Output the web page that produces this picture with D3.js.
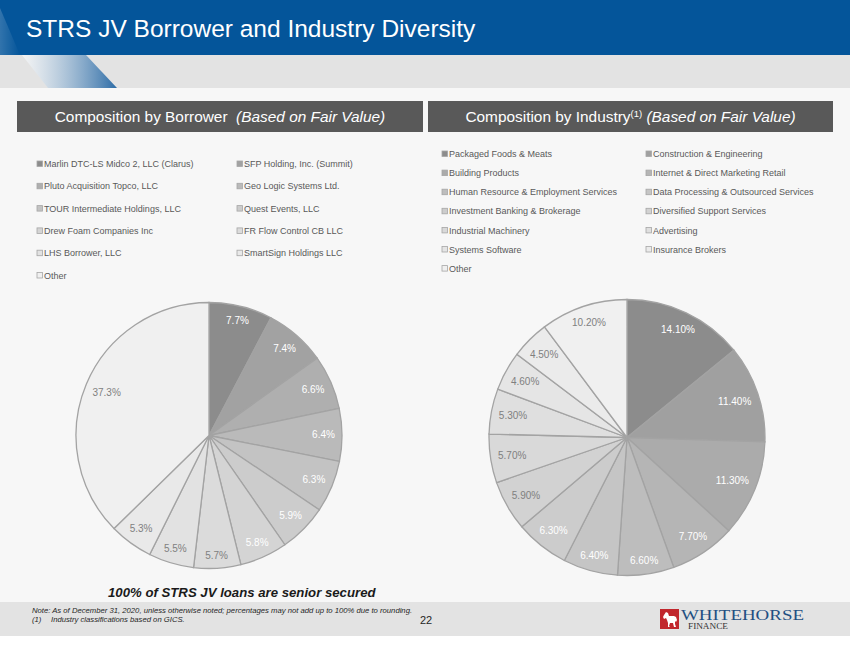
<!DOCTYPE html>
<html>
<head>
<meta charset="utf-8">
<script src="https://cdn.jsdelivr.net/npm/d3@7"></script>
<style>
  body { margin: 0; background: #ffffff; }
  svg { display: block; font-family: "Liberation Sans", Arial, sans-serif; }
</style>
</head>
<body>
<div id="chart"></div>
<script>
// Composition by borrower
const borrowerNames = [
    'Marlin DTC-LS Midco 2, LLC (Clarus)', 'SFP Holding, Inc. (Summit)',
    'Pluto Acquisition Topco, LLC', 'Geo Logic Systems Ltd.',
    'TOUR Intermediate Holdings, LLC', 'Quest Events, LLC',
    'Drew Foam Companies Inc', 'FR Flow Control CB LLC',
    'LHS Borrower, LLC', 'SmartSign Holdings LLC',
    'Other'
];
const borrowerValues = [7.7, 7.4, 6.6, 6.4, 6.3, 5.9, 5.8, 5.7, 5.5, 5.3, 37.3];

// Composition by industry
const industryNames = [
    'Packaged Foods & Meats', 'Construction & Engineering',
    'Building Products', 'Internet & Direct Marketing Retail',
    'Human Resource & Employment Services', 'Data Processing & Outsourced Services',
    'Investment Banking & Brokerage', 'Diversified Support Services',
    'Industrial Machinery', 'Advertising',
    'Systems Software', 'Insurance Brokers',
    'Other'
];
const industryValues = [14.1, 11.4, 11.3, 7.7, 6.6, 6.4, 6.3, 5.9, 5.7, 5.3, 4.6, 4.5, 10.2];

const W = 850, H = 649;

const svg = d3.select('#chart').append('svg')
    .attr('width', W)
    .attr('height', H);

const defs = svg.append('defs');
const stripeGrad = defs.append('linearGradient')
    .attr('id', 'stripe').attr('x1', 0).attr('x2', 1).attr('y1', 0).attr('y2', 0);
stripeGrad.append('stop').attr('offset', '0%').attr('stop-color', '#ffffff').attr('stop-opacity', 0.6);
stripeGrad.append('stop').attr('offset', '100%').attr('stop-color', '#2d6ca6');
const hdrGrad = defs.append('linearGradient')
    .attr('id', 'hdr').attr('x1', 0).attr('x2', 1).attr('y1', 0).attr('y2', 0);
hdrGrad.append('stop').attr('offset', '0%').attr('stop-color', '#ffffff').attr('stop-opacity', 0.18);
hdrGrad.append('stop').attr('offset', '100%').attr('stop-color', '#ffffff').attr('stop-opacity', 0);

// page background
svg.append('rect').attr('width', W).attr('height', H).attr('fill', '#f7f7f7');

// header
svg.append('rect').attr('width', W).attr('height', 55).attr('fill', '#04559a');
svg.append('path').attr('d', 'M0,8 L20,55 L0,55 Z').attr('fill', 'url(#hdr)');
svg.append('rect').attr('y', 55).attr('width', W).attr('height', 33).attr('fill', '#e3e3e3');
svg.append('path').attr('d', 'M22,55 L86,55 L117,88 L48,88 Z').attr('fill', 'url(#stripe)');
svg.append('text')
    .attr('x', 26).attr('y', 37)
    .attr('fill', '#ffffff')
    .style('font-size', '24.5px')
    .text('STRS JV Borrower and Industry Diversity');

// section title bars
function sectionBar(x, w, parts) {
    svg.append('rect')
        .attr('x', x).attr('y', 101).attr('width', w).attr('height', 31)
        .attr('fill', '#595959');
    const t = svg.append('text')
        .attr('x', x + w / 2).attr('y', 122)
        .attr('text-anchor', 'middle')
        .attr('fill', '#ffffff')
        .style('font-size', '15.4px');
    parts.forEach(p => {
        const ts = t.append('tspan').text(p.text);
        if (p.italic) ts.style('font-style', 'italic');
        if (p.sup) ts.style('font-size', '9.5px').attr('dy', -5);
        if (p.after) ts.attr('dy', 5);
    });
}
sectionBar(17, 406, [
    { text: 'Composition by Borrower\u00a0\u00a0' },
    { text: '(Based on Fair Value)', italic: true }
]);
sectionBar(428, 405, [
    { text: 'Composition by Industry' },
    { text: '(1)', sup: true },
    { text: ' (Based on Fair Value)', italic: true, after: true }
]);

function drawPie(names, values, opts) {
    const n = values.length;
    // monochrome palette: dark grey for the largest holding, fading to near white
    const shade = d3.scalePow().exponent(0.65)
        .domain([0, n - 1])
        .range([140, 240]);
    const color = i => d3.rgb(shade(i), shade(i), shade(i)).formatHex();

    // legend, two columns, row-major
    const lg = svg.append('g').style('font-size', '9px');
    names.forEach((name, i) => {
        const col = i % 2, row = Math.floor(i / 2);
        const gx = opts.legendX[col], gy = opts.legendY + row * opts.legendStep;
        lg.append('rect')
            .attr('x', gx).attr('y', gy - 3)
            .attr('width', 5.5).attr('height', 5.5)
            .attr('fill', color(i))
            .attr('stroke', '#a6a6a6').attr('stroke-width', 0.8);
        lg.append('text')
            .attr('x', gx + 7).attr('y', gy)
            .attr('dy', '0.35em')
            .attr('fill', '#595959')
            .text(name);
    });

    const pie = d3.pie().sort(null).value(d => d);
    const arcs = pie(values);
    const arc = d3.arc().innerRadius(0).outerRadius(opts.r);

    const g = svg.append('g').attr('transform', `translate(${opts.cx},${opts.cy})`);
    g.selectAll('path')
        .data(arcs)
        .join('path')
        .attr('d', arc)
        .attr('fill', (d, i) => color(i))
        .attr('stroke', '#a3a3a3')
        .attr('stroke-width', 1.3);

    // labels placed "inside end", box touching the rim
    const labels = g.selectAll('text.lbl')
        .data(arcs)
        .join('text')
        .attr('class', 'lbl')
        .attr('text-anchor', 'middle')
        .attr('dy', '0.35em')
        .style('font-size', '10px')
        .attr('fill', (d, i) => i < 7 ? '#ffffff' : '#808080')
        .text(d => d3.format(opts.fmt)(d.value) + '%');

    labels.each(function (d) {
        const w = this.getComputedTextLength() / 2 + 1;
        const h = 5;
        const a = (d.startAngle + d.endAngle) / 2;
        const ux = Math.sin(a), uy = -Math.cos(a);
        const R = opts.r - 6;
        const B = Math.abs(ux) * w + Math.abs(uy) * h;
        const dist = -B + Math.sqrt(B * B - (w * w + h * h - R * R));
        d3.select(this).attr('x', dist * ux).attr('y', dist * uy);
    });
}

drawPie(borrowerNames, borrowerValues, {
    cx: 209, cy: 435.5, r: 133, fmt: '.1f',
    legendX: [37, 237], legendY: 164, legendStep: 22.3
});
drawPie(industryNames, industryValues, {
    cx: 627, cy: 437.5, r: 138, fmt: '.2f',
    legendX: [442, 646], legendY: 154, legendStep: 19.1
});

// callout
svg.append('text')
    .attr('x', 108).attr('y', 597)
    .attr('fill', '#1a1a1a')
    .style('font-size', '13.2px')
    .style('font-weight', 'bold')
    .style('font-style', 'italic')
    .text('100% of STRS JV loans are senior secured');

// footer band
svg.append('rect').attr('y', 602).attr('width', W).attr('height', 34).attr('fill', '#e3e3e3');
svg.append('rect').attr('y', 636).attr('width', W).attr('height', 13).attr('fill', '#ffffff');
const notes = svg.append('g')
    .style('font-size', '7.7px')
    .style('font-style', 'italic')
    .attr('fill', '#262626');
notes.append('text').attr('x', 32).attr('y', 613)
    .text('Note: As of December 31, 2020, unless otherwise noted; percentages may not add up to 100% due to rounding.');
notes.append('text').attr('x', 32).attr('y', 622).text('(1)');
notes.append('text').attr('x', 51).attr('y', 622).text('Industry classifications based on GICS.');
svg.append('text')
    .attr('x', 426).attr('y', 624)
    .attr('text-anchor', 'middle')
    .attr('fill', '#262626')
    .style('font-size', '11px')
    .text('22');

// logo
const logo = svg.append('g').attr('transform', 'translate(660,609)');
logo.append('rect').attr('width', 19).attr('height', 20).attr('fill', '#c1272d');
logo.append('path')
    .attr('d', 'M4,6 L6,3 L8,4 L9,7 L14,7 L16,8 L17,11 L16,13 L15,12 L15,15 L16,18 L14,18 L13,14 L10,14 L9,17 L10,18 L8,18 L8,14 L7,11 L6,9 L4,10 L3,8 Z')
    .attr('fill', '#ffffff');
logo.append('text')
    .attr('x', 21).attr('y', 11)
    .attr('textLength', 123).attr('lengthAdjust', 'spacingAndGlyphs')
    .attr('fill', '#1f4f82')
    .style('font-family', '"Liberation Serif", "DejaVu Serif", serif')
    .style('font-size', '15px')
    .text('WHITEHORSE');
logo.append('text')
    .attr('x', 28).attr('y', 19.5)
    .attr('textLength', 40).attr('lengthAdjust', 'spacingAndGlyphs')
    .attr('fill', '#333333')
    .style('font-family', '"Liberation Serif", "DejaVu Serif", serif')
    .style('font-size', '7.5px')
    .text('FINANCE');
</script>
</body>
</html>
